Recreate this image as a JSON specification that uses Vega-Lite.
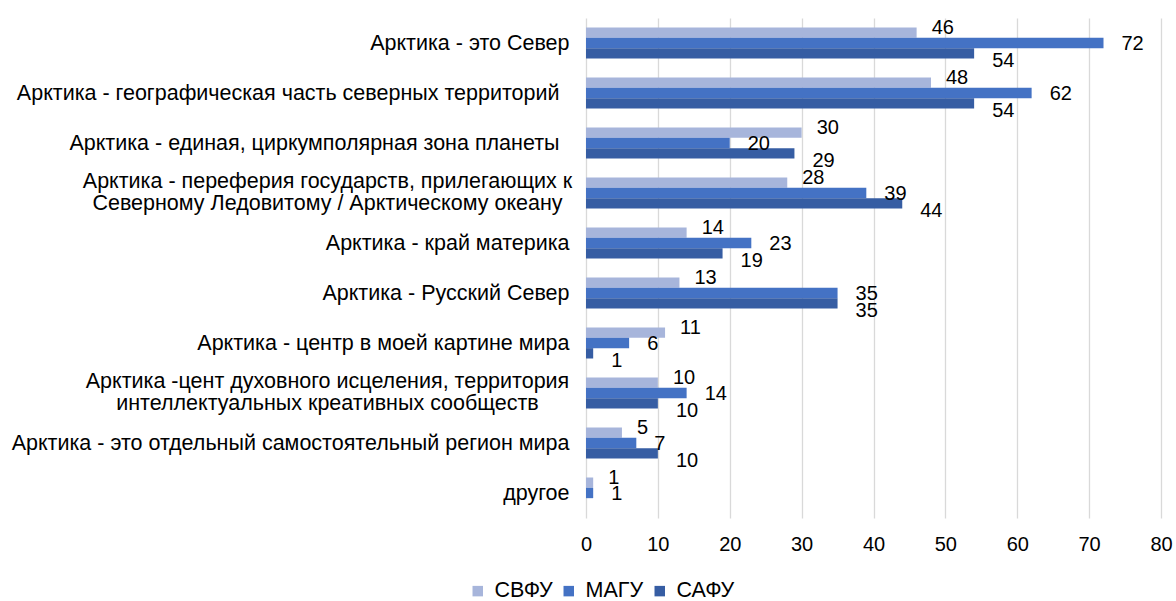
{
  "$schema": "https://vega.github.io/schema/vega-lite/v6.json",
  "width": 575,
  "height": 500,
  "autosize": {"type": "none"},
  "padding": {"left": 586, "top": 18, "right": 15, "bottom": 83},
  "background": "white",
  "config": {
    "font": "Liberation Sans",
    "view": {"stroke": null},
    "text": {"font": "Liberation Sans"}
  },
  "data": {
    "values": [
      {"cat": "Арктика - это Север", "uni": "СВФУ", "v": 46},
      {"cat": "Арктика - это Север", "uni": "МАГУ", "v": 72},
      {"cat": "Арктика - это Север", "uni": "САФУ", "v": 54},
      {"cat": "Арктика - географическая часть северных территорий ", "uni": "СВФУ", "v": 48},
      {"cat": "Арктика - географическая часть северных территорий ", "uni": "МАГУ", "v": 62},
      {"cat": "Арктика - географическая часть северных территорий ", "uni": "САФУ", "v": 54},
      {"cat": "Арктика - единая, циркумполярная зона планеты ", "uni": "СВФУ", "v": 30},
      {"cat": "Арктика - единая, циркумполярная зона планеты ", "uni": "МАГУ", "v": 20},
      {"cat": "Арктика - единая, циркумполярная зона планеты ", "uni": "САФУ", "v": 29},
      {"cat": "Арктика - переферия государств, прилегающих к|Северному Ледовитому / Арктическому океану", "uni": "СВФУ", "v": 28},
      {"cat": "Арктика - переферия государств, прилегающих к|Северному Ледовитому / Арктическому океану", "uni": "МАГУ", "v": 39},
      {"cat": "Арктика - переферия государств, прилегающих к|Северному Ледовитому / Арктическому океану", "uni": "САФУ", "v": 44},
      {"cat": "Арктика - край материка", "uni": "СВФУ", "v": 14},
      {"cat": "Арктика - край материка", "uni": "МАГУ", "v": 23},
      {"cat": "Арктика - край материка", "uni": "САФУ", "v": 19},
      {"cat": "Арктика  - Русский Север", "uni": "СВФУ", "v": 13},
      {"cat": "Арктика  - Русский Север", "uni": "МАГУ", "v": 35},
      {"cat": "Арктика  - Русский Север", "uni": "САФУ", "v": 35},
      {"cat": "Арктика - центр в моей картине мира", "uni": "СВФУ", "v": 11},
      {"cat": "Арктика - центр в моей картине мира", "uni": "МАГУ", "v": 6},
      {"cat": "Арктика - центр в моей картине мира", "uni": "САФУ", "v": 1},
      {"cat": "Арктика -цент духовного исцеления, территория|интеллектуальных креативных сообществ", "uni": "СВФУ", "v": 10},
      {"cat": "Арктика -цент духовного исцеления, территория|интеллектуальных креативных сообществ", "uni": "МАГУ", "v": 14},
      {"cat": "Арктика -цент духовного исцеления, территория|интеллектуальных креативных сообществ", "uni": "САФУ", "v": 10},
      {"cat": "Арктика - это отдельный самостоятельный регион мира", "uni": "СВФУ", "v": 5},
      {"cat": "Арктика - это отдельный самостоятельный регион мира", "uni": "МАГУ", "v": 7},
      {"cat": "Арктика - это отдельный самостоятельный регион мира", "uni": "САФУ", "v": 10},
      {"cat": "другое", "uni": "СВФУ", "v": 1},
      {"cat": "другое", "uni": "МАГУ", "v": 1}
    ]
  },
  "encoding": {
    "y": {
      "field": "cat",
      "type": "nominal",
      "sort": null,
      "scale": {"paddingInner": 0.38, "paddingOuter": 0.19},
      "axis": {
        "title": null,
        "ticks": false,
        "domain": false,
        "labelFontSize": 21.5,
        "labelColor": "#000000",
        "labelPadding": {
          "condition": [
            {"test": "indexof(datum.value, '|') >= 0", "value": 259},
            {"test": "test(/ $/, datum.value)", "value": 27}
          ],
          "value": 17
        },
        "labelAlign": {
          "condition": {"test": "indexof(datum.value, '|') >= 0", "value": "center"},
          "value": "right"
        },
        "labelOffset": {
          "condition": {"test": "indexof(datum.value, '|') >= 0", "value": -11},
          "value": 1
        },
        "labelLimit": 0,
        "labelLineHeight": 22,
        "labelExpr": "split(datum.value, '|')"
      }
    },
    "yOffset": {
      "field": "uni",
      "type": "nominal",
      "scale": {"domain": ["СВФУ", "МАГУ", "САФУ"]}
    },
    "x": {
      "field": "v",
      "type": "quantitative",
      "scale": {"domain": [0, 80], "nice": false},
      "axis": {
        "title": null,
        "values": [0, 10, 20, 30, 40, 50, 60, 70, 80],
        "grid": true,
        "gridColor": "#d9d9d9",
        "gridWidth": 1.3,
        "domain": false,
        "ticks": false,
        "labelFontSize": 20,
        "labelColor": "#000000",
        "labelPadding": 16,
        "labelFlush": false
      }
    }
  },
  "layer": [
    {
      "mark": {"type": "bar"},
      "encoding": {
        "color": {
          "field": "uni",
          "type": "nominal",
          "scale": {"domain": ["СВФУ", "МАГУ", "САФУ"], "range": ["#a7b5db", "#4472c4", "#365da3"]},
          "legend": {
            "title": null,
            "orient": "none",
            "legendX": -119,
            "legendY": 562,
            "direction": "horizontal",
            "symbolType": "square",
            "symbolSize": 110,
            "symbolStrokeWidth": 0,
            "labelFontSize": 21.5,
            "labelColor": "#000000",
            "labelOffset": 6,
            "columnPadding": 5
          }
        }
      }
    },
    {
      "transform": [{"filter": "datum.uni === 'СВФУ'"}],
      "mark": {"type": "text", "align": "left", "baseline": "middle", "dx": 15, "dy": -5, "fontSize": 20, "color": "#000000"},
      "encoding": {"text": {"field": "v", "type": "quantitative"}}
    },
    {
      "transform": [{"filter": "datum.uni === 'МАГУ'"}],
      "mark": {"type": "text", "align": "left", "baseline": "middle", "dx": 18, "dy": 1, "fontSize": 20, "color": "#000000"},
      "encoding": {"text": {"field": "v", "type": "quantitative"}}
    },
    {
      "transform": [{"filter": "datum.uni === 'САФУ'"}],
      "mark": {"type": "text", "align": "left", "baseline": "middle", "dx": 18, "dy": 8, "fontSize": 20, "color": "#000000"},
      "encoding": {"text": {"field": "v", "type": "quantitative"}}
    }
  ]
}
